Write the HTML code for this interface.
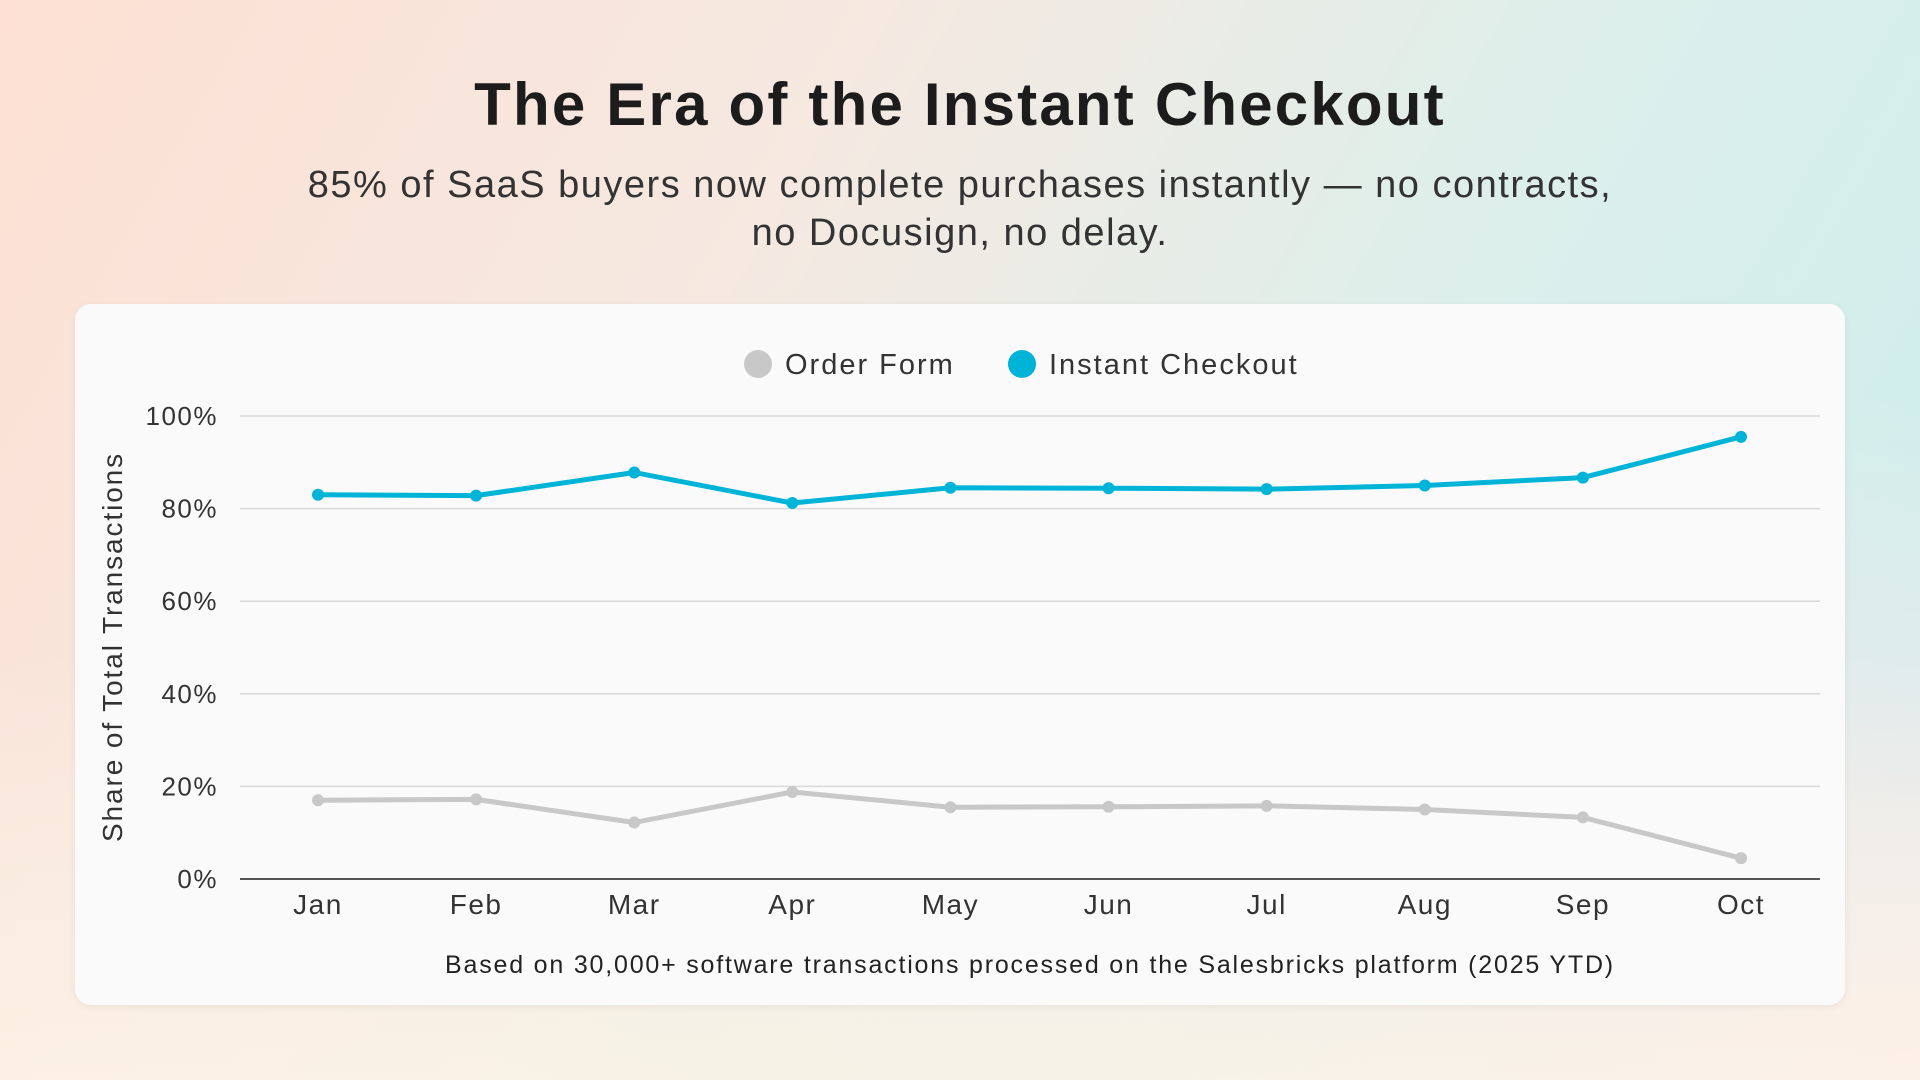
<!DOCTYPE html>
<html><head><meta charset="utf-8"><style>
html,body{margin:0;padding:0;width:1920px;height:1080px;overflow:hidden;font-family:"Liberation Sans",sans-serif;}
body{background:linear-gradient(120deg,#fde0d3 0%,#f5e9e1 35%,#dcefeb 65%,#c9edec 100%);position:relative}
.ov{position:absolute;inset:0;background:linear-gradient(to top,rgba(253,244,230,0.75),rgba(253,244,230,0) 40%),radial-gradient(ellipse at 100% 100%,rgba(252,232,236,0.95),rgba(252,232,236,0) 45%)}
h1{position:absolute;top:70px;left:0;width:1920px;text-align:center;margin:0;font-size:60px;font-weight:bold;color:#1c1c1c;letter-spacing:2.2px}
.sub{position:absolute;top:161px;left:0;width:1920px;text-align:center;font-size:38px;line-height:48px;color:#333;letter-spacing:1.5px}
.card{position:absolute;left:75px;top:304px;width:1770px;height:701px;background:#fafafa;border-radius:16px;box-shadow:0 2px 8px rgba(0,0,0,0.06)}
svg{position:absolute;left:0;top:0}
</style></head><body>
<div class="ov"></div>
<h1>The Era of the Instant Checkout</h1>
<div class="sub">85% of SaaS buyers now complete purchases instantly — no contracts,<br>no Docusign, no delay.</div>
<div class="card"></div>
<svg id="chart" width="1920" height="1080"></svg>
<script>
const categories=["Jan","Feb","Mar","Apr","May","Jun","Jul","Aug","Sep","Oct"];
const instantValues=[83,82.8,87.8,81.2,84.5,84.4,84.2,85,86.7,95.5];
const orderValues=[17,17.2,12.2,18.8,15.5,15.6,15.8,15,13.3,4.5];
const yTicks=[0,20,40,60,80,100];
const NS="http://www.w3.org/2000/svg";
const svg=document.getElementById('chart');
const x0=240,x1=1820,y0=879,y1=416,jx=318,ox=1741;
const xs=i=>jx+(ox-jx)*i/(categories.length-1);
const ys=v=>y0-(y0-y1)*v/100;
function mk(t,a){const e=document.createElementNS(NS,t);for(const k in a)e.setAttribute(k,a[k]);svg.appendChild(e);return e;}
yTicks.forEach(v=>{
 const l=mk('line',{x1:x0,x2:x1,y1:ys(v),y2:ys(v),stroke:v===0?'#555':'#d8d8d8','stroke-width':v===0?2:1.5});
 
 
 const t=mk('text',{x:218,y:ys(v)+9,'text-anchor':'end','font-size':26,fill:'#333','letter-spacing':1.5,'font-family':'Liberation Sans, sans-serif'});
 t.textContent=v+'%';
 
 
});
categories.forEach((c,i)=>{
 const t=mk('text',{x:xs(i),y:914,'text-anchor':'middle','font-size':28,fill:'#333','letter-spacing':1.5,'font-family':'Liberation Sans, sans-serif'});
 t.textContent=c;
 
 
});
function series(vals,color,name){
 const p=mk('polyline',{points:vals.map((v,i)=>xs(i)+','+ys(v)).join(' '),fill:'none',stroke:color,'stroke-width':5,'stroke-linejoin':'round'});
 
 
 vals.forEach((v,i)=>{
  const c=mk('circle',{cx:xs(i),cy:ys(v),r:6,fill:color});
  
  
 });
}
series(orderValues,'#c8c8c8','order-form');
series(instantValues,'#00b4d8','instant-checkout');
const leg=[[758,'#c8c8c8','Order Form'],[1022,'#00b4d8','Instant Checkout']];
leg.forEach(([x,c,n])=>{
 const d=mk('circle',{cx:x,cy:364,r:14,fill:c});
 
 
 const t=mk('text',{x:x+27,y:374,'font-size':29,fill:'#333','letter-spacing':2,'font-family':'Liberation Sans, sans-serif'});
 t.textContent=n;
 
 
});
const yt=mk('text',{x:0,y:0,transform:'translate(122,647) rotate(-90)','text-anchor':'middle','font-size':28,fill:'#333','letter-spacing':1.9,'font-family':'Liberation Sans, sans-serif'});
yt.textContent='Share of Total Transactions';


const ft=mk('text',{x:1030,y:973,'text-anchor':'middle','font-size':25,fill:'#222','letter-spacing':1.8,'font-family':'Liberation Sans, sans-serif'});
ft.textContent='Based on 30,000+ software transactions processed on the Salesbricks platform (2025 YTD)';


</script>
</body></html>
